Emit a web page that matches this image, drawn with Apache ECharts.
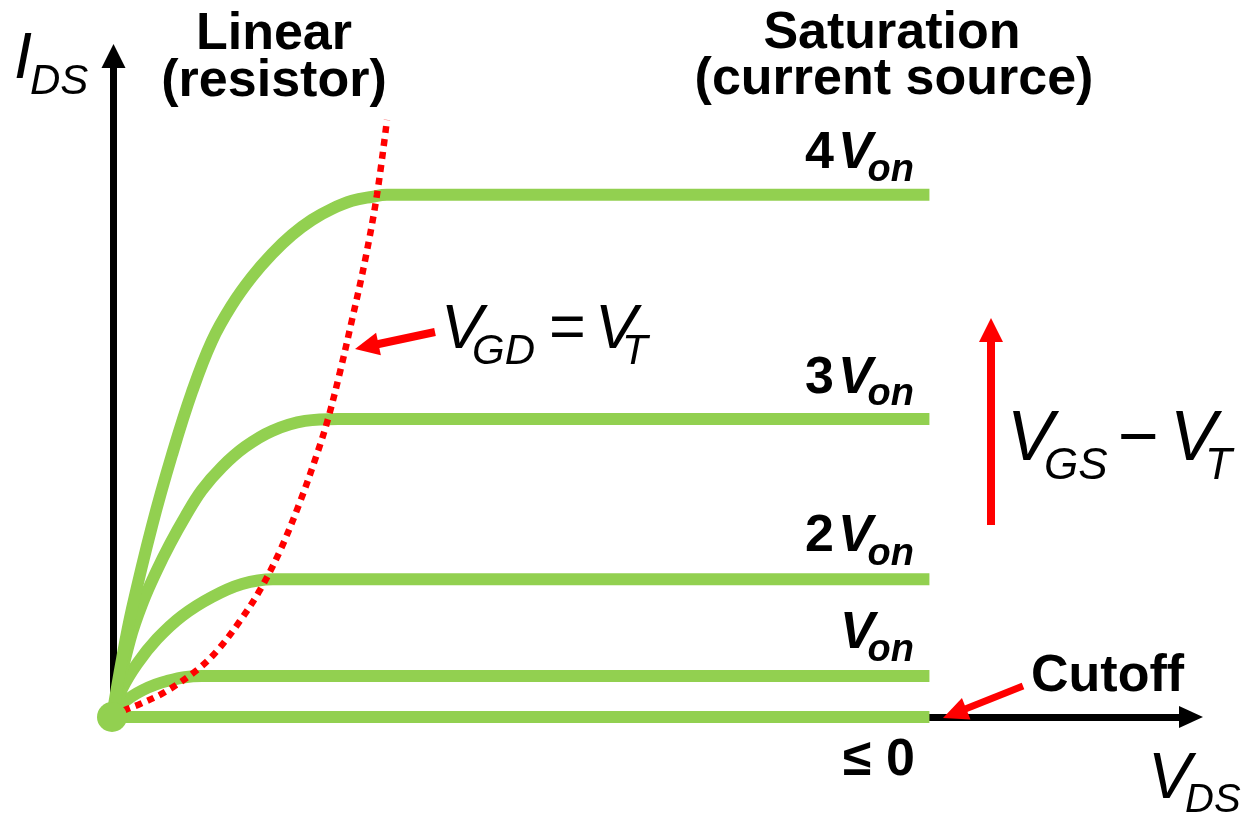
<!DOCTYPE html>
<html>
<head>
<meta charset="utf-8">
<script src="https://cdn.jsdelivr.net/npm/echarts@6/dist/echarts.min.js"></script>
<style>
html,body{margin:0;padding:0;background:#fff;}
#chart{width:1247px;height:819px;}
</style>
</head>
<body>
<div id="chart"></div>
<script>
// V_DS (arbitrary units) and I_DS (arbitrary units)
const curve4Von = [[0,0],[0.092,1.036],[0.183,1.929],[0.367,3.411],[0.55,4.679],[0.734,5.804],[0.917,6.714],[1.101,7.357],[1.284,7.857],[1.468,8.268],[1.651,8.607],[1.835,8.875],[2.018,9.071],[2.202,9.214],[2.385,9.286],[2.523,9.321],[7.5,9.321]];
const curve3Von = [[0,0],[0.165,1.375],[0.284,2.054],[0.413,2.625],[0.532,3.089],[0.67,3.571],[0.826,4.054],[1.009,4.464],[1.22,4.821],[1.468,5.107],[1.771,5.286],[2.073,5.321],[7.5,5.321]];
const curve2Von = [[0,0],[0.092,0.5],[0.229,0.946],[0.413,1.393],[0.642,1.804],[0.917,2.143],[1.193,2.375],[1.477,2.46],[7.5,2.46]];
const curve1Von = [[0,0],[0.101,0.25],[0.284,0.482],[0.505,0.643],[0.826,0.732],[7.5,0.732]];
const curveCutoff = [[0,0],[7.5,0]];
const locusVGDeqVT = [[0,0],[0.119,0.125],[0.257,0.232],[0.486,0.446],[0.78,0.839],[0.963,1.179],[1.174,1.714],[1.358,2.268],[1.541,2.964],[1.725,3.839],[1.881,4.696],[1.982,5.321],[2.092,6.161],[2.202,7.089],[2.321,8.143],[2.431,9.321],[2.523,10.66]];
const originPoint = [[0,0]];
const levelLabels = ['4', '3', '2', ''];

const FONT = '"Liberation Sans", Arial, Helvetica, sans-serif';
const GREEN = '#92d050';
const RED = '#ff0000';

function txt(text, x, baseline, size, weight, style, align) {
  const font = (style || 'normal') + ' ' + (weight || 'normal') + ' ' + size + 'px ' + FONT;
  return {
    type: 'text', silent: true, z: 100,
    style: {
      text: text, x: x, y: baseline - 0.3465 * size, font: font, fill: '#000',
      align: align || 'left', verticalAlign: 'middle',
      textAlign: align || 'left', textVerticalAlign: 'middle'
    }
  };
}
function arrow(x1, y1, x2, y2, w, headLen, headW) {
  const dx = x2 - x1, dy = y2 - y1, L = Math.sqrt(dx*dx + dy*dy);
  const ux = dx / L, uy = dy / L, nx = -uy, ny = ux;
  const bx = x2 - ux * headLen, by = y2 - uy * headLen;
  return [
    {type: 'line', silent: true, z: 90, shape: {x1: x1, y1: y1, x2: bx + ux, y2: by + uy}, style: {stroke: RED, lineWidth: w}},
    {type: 'polygon', silent: true, z: 90, shape: {points: [[x2, y2], [bx + nx*headW/2, by + ny*headW/2], [bx - nx*headW/2, by - ny*headW/2]]}, style: {fill: RED}}
  ];
}

const chart = echarts.init(document.getElementById('chart'), null, {renderer: 'canvas'});

const lineStyleGreen = {color: GREEN, width: 12, cap: 'butt', join: 'round', opacity: 1};
function greenSeries(data) {
  return {type: 'line', data: data, smooth: 0.4, showSymbol: false, silent: true, animation: false, lineStyle: lineStyleGreen, z: 3};
}

const graphics = [].concat(
  [
    txt('I', 14, 82, 65, 'normal', 'italic'),
    txt('DS', 30, 97, 42, 'normal', 'italic'),
    txt('Linear', 274, 53, 52, 'bold', 'normal', 'center'),
    txt('(resistor)', 274, 100, 52, 'bold', 'normal', 'center'),
    txt('Saturation', 892, 52, 52, 'bold', 'normal', 'center'),
    txt('(current source)', 894, 98, 52, 'bold', 'normal', 'center'),
    txt(levelLabels[0], 805, 172, 52, 'bold'),
    txt('V', 838, 172, 52, 'bold', 'italic'),
    txt('on', 914, 184, 38, 'bold', 'italic', 'right'),
    txt(levelLabels[1], 805, 397, 52, 'bold'),
    txt('V', 838, 397, 52, 'bold', 'italic'),
    txt('on', 914, 408, 38, 'bold', 'italic', 'right'),
    txt(levelLabels[2], 805, 555, 52, 'bold'),
    txt('V', 838, 555, 52, 'bold', 'italic'),
    txt('on', 914, 568, 38, 'bold', 'italic', 'right'),
    txt('V', 840, 652, 52, 'bold', 'italic'),
    txt('on', 914, 664, 38, 'bold', 'italic', 'right'),
    txt('\u2264 0', 843, 779, 52, 'bold'),
    txt('Cutoff', 1031, 695, 52, 'bold'),
    txt('V', 441, 352, 63, 'normal', 'italic'),
    txt('GD', 472, 367, 42, 'normal', 'italic'),
    txt('=', 549, 352, 63, 'normal'),
    txt('V', 595, 352, 63, 'normal', 'italic'),
    txt('T', 622, 367, 42, 'normal', 'italic'),
    txt('V', 1007, 465, 70, 'normal', 'italic'),
    txt('GS', 1044, 482, 44, 'normal', 'italic'),
    txt('\u2212', 1118, 465, 70, 'normal'),
    txt('V', 1170, 465, 70, 'normal', 'italic'),
    txt('T', 1205, 482, 44, 'normal', 'italic'),
    txt('V', 1148, 802, 65, 'normal', 'italic'),
    txt('DS', 1185, 815, 40, 'normal', 'italic')
  ],
  arrow(435, 332, 355, 349, 8, 24, 23),
  arrow(1023, 686, 943, 718, 7, 25, 23),
  arrow(991, 525, 991, 318, 8, 24, 24)
);

const option = {
  animation: false,
  backgroundColor: '#ffffff',
  grid: {left: 112, right: 56, top: 56, bottom: 102, containLabel: false},
  xAxis: {
    type: 'value', min: 0, max: 9.9,
    axisLine: {show: true, onZero: false, symbol: ['none', 'triangle'], symbolSize: [22, 24], lineStyle: {color: '#000', width: 7}},
    axisTick: {show: false}, axisLabel: {show: false}, splitLine: {show: false}
  },
  yAxis: {
    type: 'value', min: 0, max: 11.8, offset: -1.5,
    axisLine: {show: true, onZero: false, symbol: ['none', 'triangle'], symbolSize: [24, 24], lineStyle: {color: '#000', width: 7}},
    axisTick: {show: false}, axisLabel: {show: false}, splitLine: {show: false}
  },
  series: [
    greenSeries(curveCutoff),
    greenSeries(curve1Von),
    greenSeries(curve2Von),
    greenSeries(curve3Von),
    greenSeries(curve4Von),
    {type: 'line', data: locusVGDeqVT, smooth: 0.35, showSymbol: false, silent: true, z: 4,
     lineStyle: {color: RED, width: 6.5, type: [7, 6], cap: 'butt'}},
    {type: 'scatter', data: originPoint, symbolSize: 30, silent: true, z: 6, itemStyle: {color: GREEN, opacity: 1}}
  ],
  graphic: graphics
};
chart.setOption(option);
</script>
</body>
</html>
